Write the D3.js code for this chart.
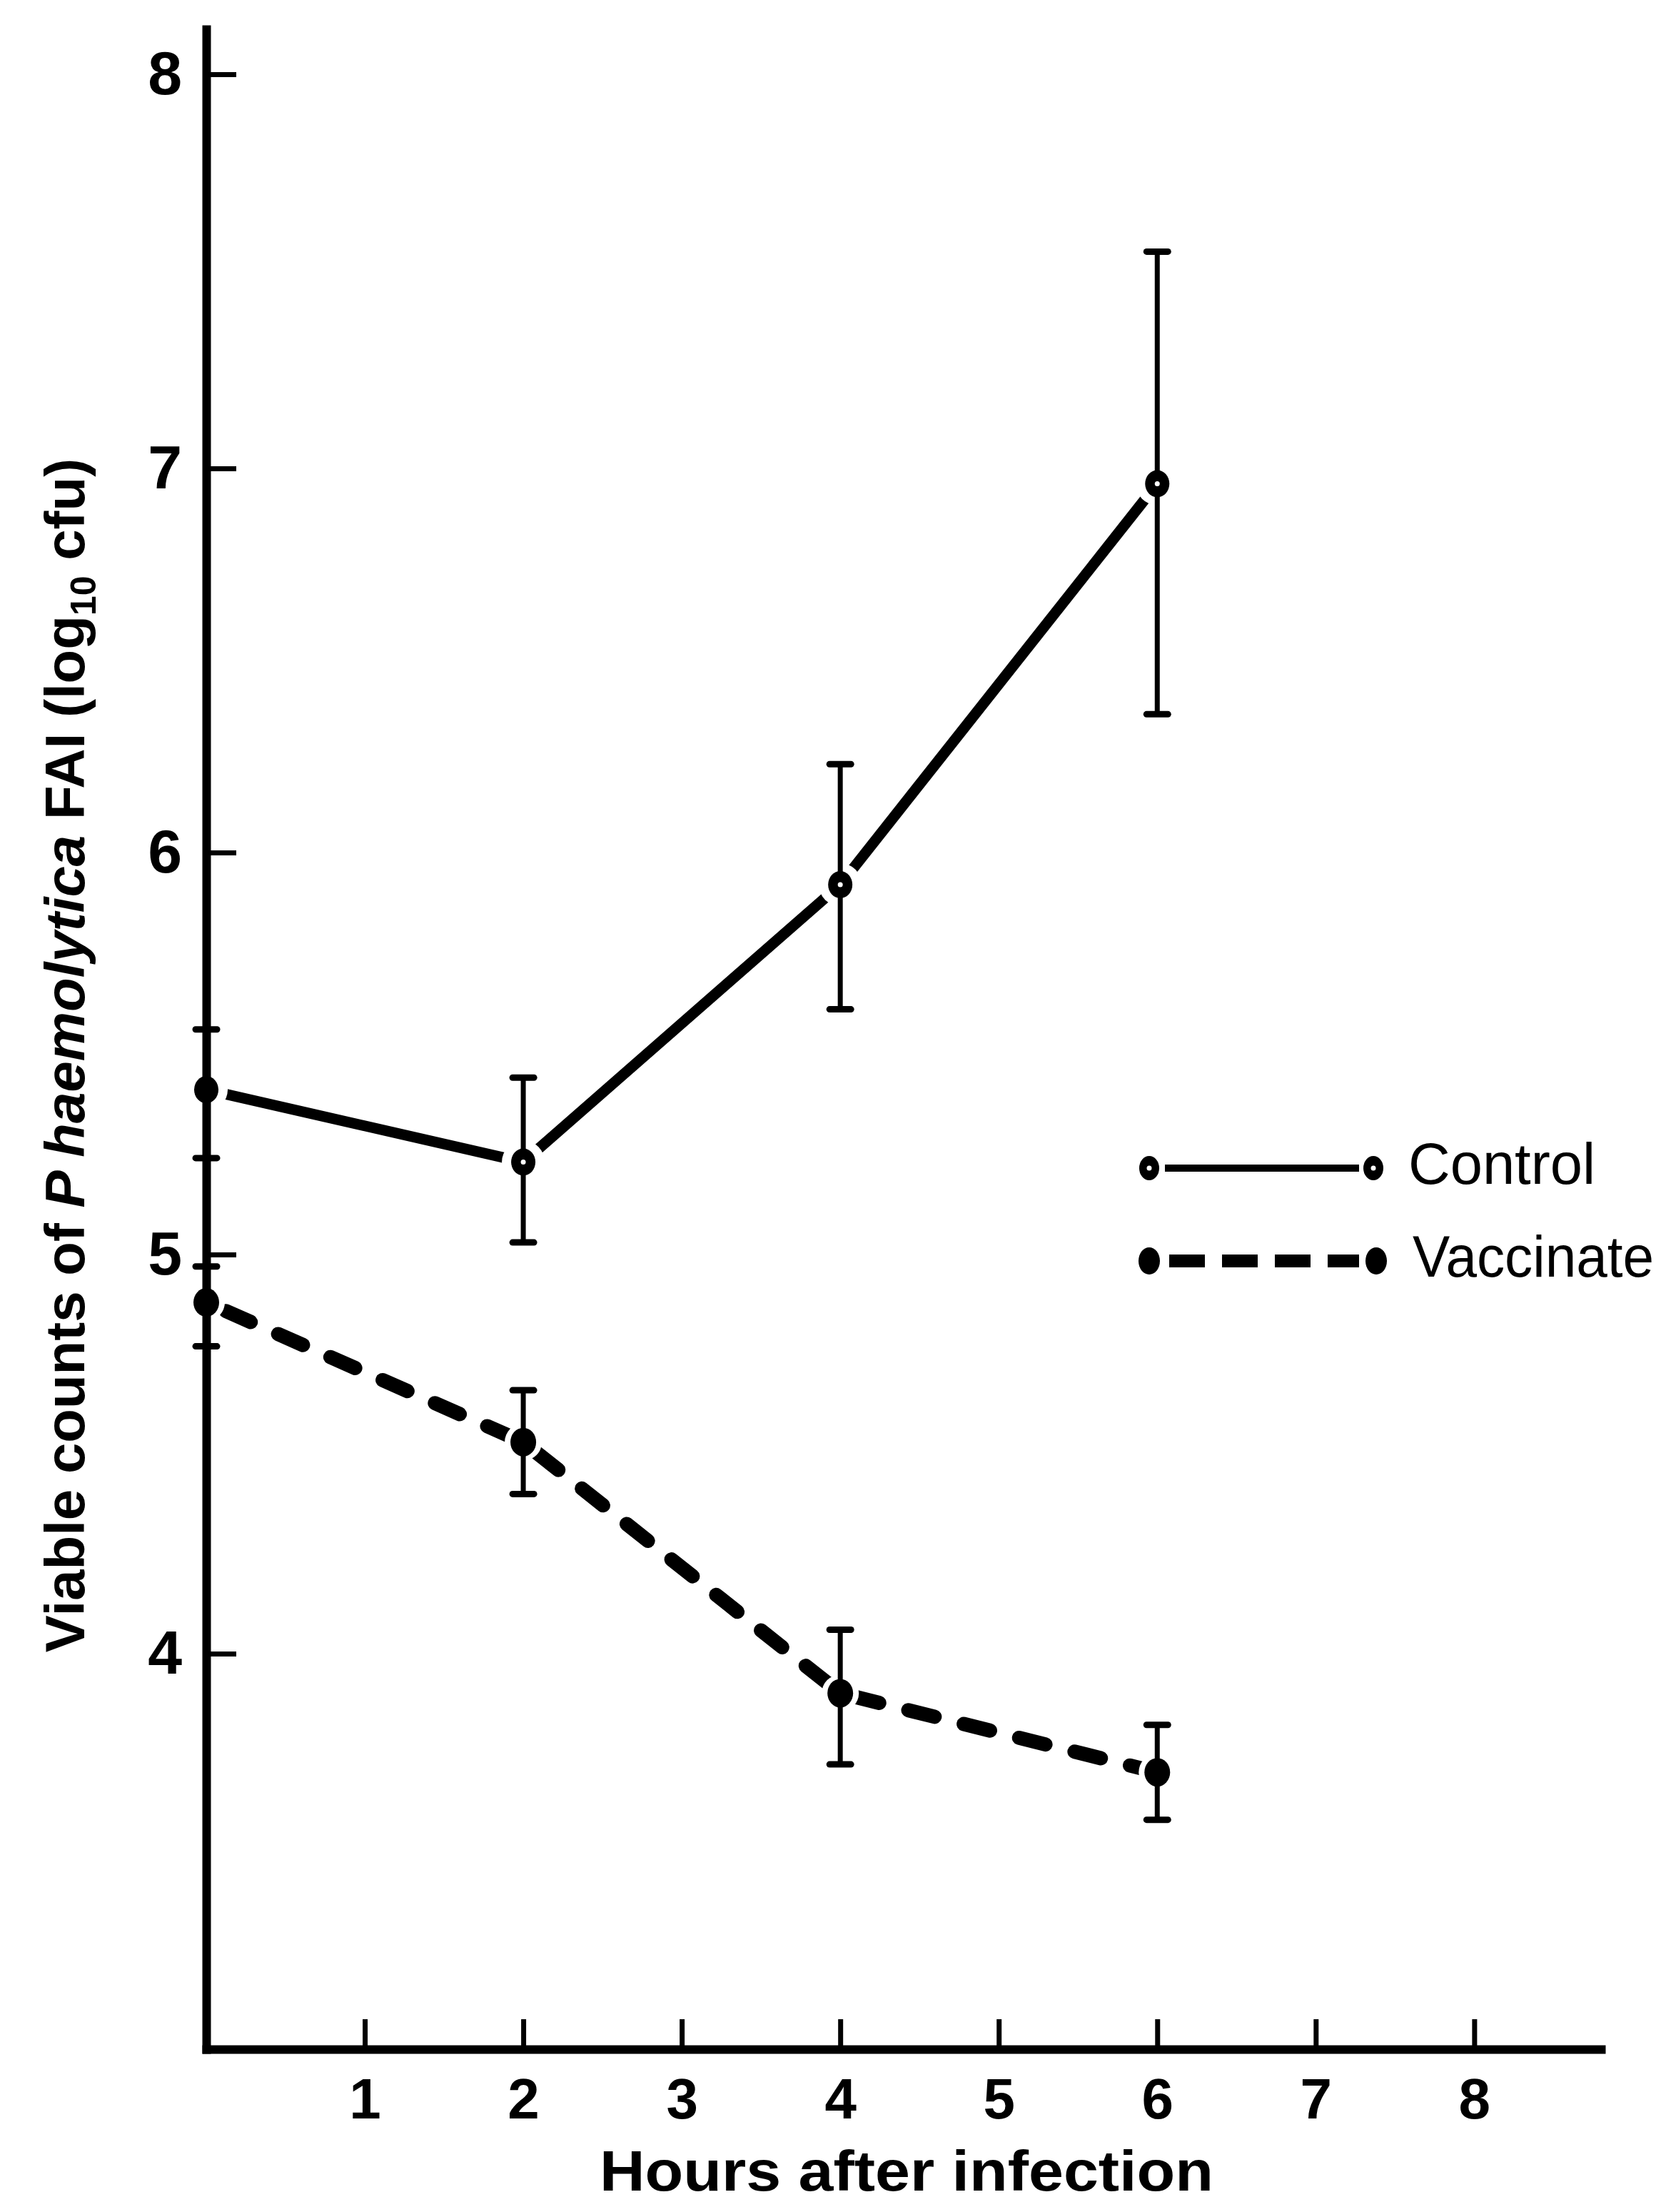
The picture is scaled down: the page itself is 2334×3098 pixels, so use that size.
<!DOCTYPE html>
<html lang="en">
<head>
<meta charset="utf-8">
<script src="https://d3js.org/d3.v7.min.js"></script>
<style>
  body { margin: 0; background: white; }
  text { font-family: "Liberation Sans", Arial, sans-serif; fill: black; }
</style>
</head>
<body>
<script>
// hours after infection
var hours = [0, 2, 4, 6];

// control group: means and error bar ends (log10 cfu)
var control = [5.41, 5.23, 5.92, 6.96];
var controlLow = [5.24, 5.03, 5.61, 6.36];
var controlHigh = [5.56, 5.44, 6.23, 7.55];

// vaccinated group
var vaccinate = [4.88, 4.53, 3.90, 3.70];
var vaccinateLow = [4.77, 4.40, 3.72, 3.58];
var vaccinateHigh = [4.97, 4.66, 4.06, 3.82];

var xTicks = [1, 2, 3, 4, 5, 6, 7, 8];
var yTicks = [4, 5, 6, 7, 8];
var seriesNames = ["Control", "Vaccinate"];

var width = 2334;
var height = 3098;

var svg = d3.select("body").append("svg")
    .attr("width", width)
    .attr("height", height)
    .style("background", "white");

// x is plain linear, y follows the printed tick marks (scan is a bit uneven)
var x = d3.scaleLinear().domain([0, 8.8]).range([289, 2243]);
var y = d3.scaleLinear()
    .domain([3, 4, 5, 6, 7, 8, 8.11])
    .range([2870, 2316, 1757, 1194, 656, 104, 41]);

function points(vals, lo, hi) {
    return hours.map(function (h, i) {
        return { h: h, v: vals[i], lo: lo[i], hi: hi[i] };
    });
}
var controlPts = points(control, controlLow, controlHigh);
var vaccPts = points(vaccinate, vaccinateLow, vaccinateHigh);

var line = d3.line()
    .x(function (d) { return x(d.h); })
    .y(function (d) { return y(d.v); });

// series lines
svg.append("path")
    .datum(controlPts)
    .attr("d", line)
    .attr("fill", "none")
    .attr("stroke", "black")
    .attr("stroke-width", 15)
    .attr("stroke-linecap", "round");

svg.append("path")
    .datum(vaccPts)
    .attr("d", line)
    .attr("fill", "none")
    .attr("stroke", "black")
    .attr("stroke-width", 20)
    .attr("stroke-linecap", "round")
    .attr("stroke-dasharray", "38,42")
    .attr("stroke-dashoffset", -30);

// white gaps where the lines meet the points
function gaps(pts, r) {
    svg.append("g").selectAll("circle")
        .data(pts)
        .enter()
        .append("circle")
        .attr("cx", function (d) { return x(d.h); })
        .attr("cy", function (d) { return y(d.v); })
        .attr("r", r)
        .attr("fill", "white");
}
gaps(controlPts, 30);
gaps(vaccPts, 26);

// error bars
function errorBars(pts) {
    var g = svg.append("g").attr("stroke", "black");
    g.selectAll("line.bar")
        .data(pts)
        .enter()
        .append("line")
        .attr("class", "bar")
        .attr("x1", function (d) { return x(d.h); })
        .attr("x2", function (d) { return x(d.h); })
        .attr("y1", function (d) { return y(d.lo); })
        .attr("y2", function (d) { return y(d.hi); })
        .attr("stroke-width", 7);
    ["lo", "hi"].forEach(function (k) {
        g.selectAll("line.cap" + k)
            .data(pts)
            .enter()
            .append("line")
            .attr("class", "cap" + k)
            .attr("x1", function (d) { return x(d.h) - 15; })
            .attr("x2", function (d) { return x(d.h) + 15; })
            .attr("y1", function (d) { return y(d[k]); })
            .attr("y2", function (d) { return y(d[k]); })
            .attr("stroke-width", 9)
            .attr("stroke-linecap", "round");
    });
}
errorBars(controlPts);
errorBars(vaccPts);

// markers
svg.append("g").selectAll("ellipse")
    .data(vaccPts)
    .enter()
    .append("ellipse")
    .attr("cx", function (d) { return x(d.h); })
    .attr("cy", function (d) { return y(d.v); })
    .attr("rx", 18)
    .attr("ry", 20)
    .attr("fill", "black");

var cm = svg.append("g").selectAll("g")
    .data(controlPts)
    .enter()
    .append("g")
    .attr("transform", function (d) { return "translate(" + x(d.h) + "," + y(d.v) + ")"; });
cm.append("ellipse").attr("rx", 17).attr("ry", 19).attr("fill", "black");
cm.append("circle").attr("r", 3.5).attr("fill", "white");

// axes
var xAxis = d3.axisBottom(x)
    .tickValues(xTicks)
    .tickSize(-42)
    .tickSizeOuter(0)
    .tickPadding(40)
    .tickFormat(d3.format("d"));

var yAxis = d3.axisLeft(y)
    .tickValues(yTicks)
    .tickSize(-42)
    .tickSizeOuter(0)
    .tickPadding(34)
    .tickFormat(d3.format("d"));

var gx = svg.append("g")
    .attr("transform", "translate(0," + y(3) + ")")
    .call(xAxis);
var gy = svg.append("g")
    .attr("transform", "translate(" + x(0) + ",0)")
    .call(yAxis);

[gx, gy].forEach(function (g) {
    g.select(".domain").attr("stroke-width", 12).attr("stroke-linecap", "square");
    g.selectAll(".tick line").attr("stroke-width", 7);
    g.selectAll(".tick text")
        .attr("font-family", "Liberation Sans, Arial, sans-serif")
        .attr("font-weight", "bold")
        .attr("fill", "black");
});
gx.selectAll(".tick text").attr("font-size", 80);
gy.selectAll(".tick text").attr("font-size", 86);

// axis titles
svg.append("text")
    .attr("x", 1270)
    .attr("y", 3068)
    .attr("text-anchor", "middle")
    .attr("font-size", 80)
    .attr("font-weight", "bold")
    .attr("textLength", 860)
    .attr("lengthAdjust", "spacingAndGlyphs")
    .text("Hours after infection");

var yt = svg.append("text")
    .attr("transform", "translate(118,1478) rotate(-90)")
    .attr("text-anchor", "middle")
    .attr("font-size", 78)
    .attr("font-weight", "bold");
yt.append("tspan").text("Viable counts of ");
yt.append("tspan").attr("font-style", "italic").text("P haemolytica");
yt.append("tspan").text(" FAI (log");
yt.append("tspan").attr("font-size", 50).attr("dy", 16).text("10");
yt.append("tspan").attr("dy", -16).text(" cfu)");

// legend
var legendY = [1636, 1766];
var lg = svg.append("g");

lg.append("line")
    .attr("x1", 1632).attr("x2", 1904)
    .attr("y1", legendY[0]).attr("y2", legendY[0])
    .attr("stroke", "black").attr("stroke-width", 10);
lg.append("line")
    .attr("x1", 1638).attr("x2", 1904)
    .attr("y1", legendY[1]).attr("y2", legendY[1])
    .attr("stroke", "black").attr("stroke-width", 18)
    .attr("stroke-dasharray", "50,24");

[1610, 1924].forEach(function (cx) {
    lg.append("ellipse").attr("cx", cx).attr("cy", legendY[0]).attr("rx", 14).attr("ry", 17).attr("fill", "black");
    lg.append("circle").attr("cx", cx).attr("cy", legendY[0]).attr("r", 3.5).attr("fill", "white");
});
[1610, 1928].forEach(function (cx) {
    lg.append("ellipse").attr("cx", cx).attr("cy", legendY[1]).attr("rx", 15).attr("ry", 19).attr("fill", "black");
});

lg.selectAll("text")
    .data(seriesNames)
    .enter()
    .append("text")
    .attr("x", function (d, i) { return i == 0 ? 1973 : 1979; })
    .attr("y", function (d, i) { return legendY[i] + 22; })
    .attr("font-size", 82)
    .attr("textLength", function (d, i) { return i == 0 ? 262 : 338; })
    .attr("lengthAdjust", "spacingAndGlyphs")
    .text(function (d) { return d; });
</script>
</body>
</html>
